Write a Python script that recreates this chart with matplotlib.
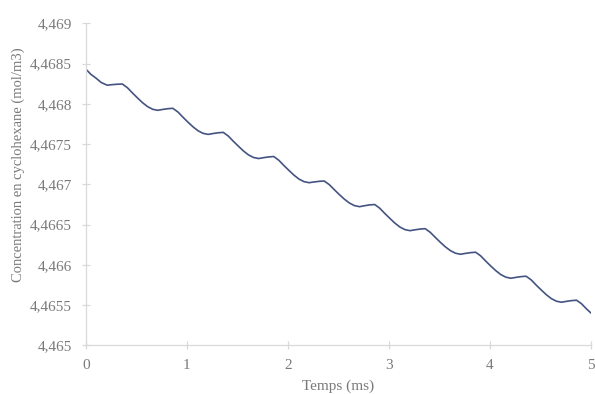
import matplotlib
matplotlib.use("Agg")
import matplotlib.pyplot as plt
from matplotlib.ticker import FuncFormatter, MultipleLocator

# values
temps_ms = [0.00, 0.05, 0.10, 0.15, 0.21, 0.26, 0.31, 0.36,
            0.41, 0.46, 0.51, 0.56, 0.61, 0.66, 0.71, 0.76, 0.81, 0.86,
            0.91, 0.96, 1.01, 1.06, 1.11, 1.16, 1.21, 1.26, 1.31, 1.36,
            1.41, 1.46, 1.51, 1.56, 1.61, 1.66, 1.71, 1.76, 1.81, 1.86,
            1.91, 1.96, 2.01, 2.06, 2.11, 2.16, 2.21, 2.26, 2.31, 2.36,
            2.41, 2.46, 2.51, 2.56, 2.61, 2.66, 2.71, 2.76, 2.81, 2.86,
            2.91, 2.96, 3.01, 3.06, 3.11, 3.16, 3.21, 3.26, 3.31, 3.36,
            3.41, 3.46, 3.51, 3.56, 3.61, 3.66, 3.71, 3.76, 3.81, 3.86,
            3.91, 3.96, 4.01, 4.06, 4.11, 4.16, 4.21, 4.26, 4.31, 4.36,
            4.41, 4.46, 4.51, 4.56, 4.61, 4.66, 4.71, 4.76, 4.81, 4.86,
            4.91, 4.96, 5.00]

concentration = [4.468429, 4.468364, 4.468318, 4.468265, 4.468231, 4.468238, 4.468243, 4.468246,
                 4.468200, 4.468135, 4.468073, 4.468014, 4.467965, 4.467932, 4.467919, 4.467930, 4.467939, 4.467944,
                 4.467899, 4.467834, 4.467772, 4.467714, 4.467665, 4.467633, 4.467620, 4.467631, 4.467640, 4.467645,
                 4.467599, 4.467534, 4.467473, 4.467414, 4.467365, 4.467333, 4.467320, 4.467331, 4.467340, 4.467345,
                 4.467299, 4.467234, 4.467173, 4.467114, 4.467065, 4.467033, 4.467020, 4.467029, 4.467037, 4.467041,
                 4.466996, 4.466933, 4.466872, 4.466815, 4.466767, 4.466735, 4.466722, 4.466734, 4.466744, 4.466749,
                 4.466703, 4.466638, 4.466577, 4.466518, 4.466469, 4.466437, 4.466424, 4.466435, 4.466444, 4.466449,
                 4.466404, 4.466341, 4.466280, 4.466223, 4.466176, 4.466144, 4.466131, 4.466142, 4.466151, 4.466156,
                 4.466111, 4.466046, 4.465985, 4.465927, 4.465878, 4.465846, 4.465833, 4.465844, 4.465853, 4.465858,
                 4.465813, 4.465748, 4.465687, 4.465629, 4.465580, 4.465548, 4.465535, 4.465546, 4.465555, 4.465560,
                 4.465515, 4.465450, 4.465404]

x_label = "Temps (ms)"
y_label = "Concentration en cyclohexane (mol/m3)"

plt.rcParams['font.family'] = ['Liberation Serif', 'DejaVu Serif']

fig = plt.figure(figsize=(5.95, 3.94), dpi=100)
ax = fig.add_axes([86 / 595, 1 - 345.3 / 394, (590.7 - 86) / 595, (345.3 - 23.3) / 394])

ax.plot(temps_ms, concentration, color='#445482', linewidth=1.2)

ax.set_xlim(0, 5)
ax.set_ylim(4.465, 4.469)
ax.xaxis.set_major_locator(MultipleLocator(1))
ax.yaxis.set_major_locator(MultipleLocator(0.0005))
ax.yaxis.set_major_formatter(FuncFormatter(
    lambda v, p: f"{v:.4f}".rstrip('0').rstrip('.').replace('.', ',')))

for side in ['top', 'right']:
    ax.spines[side].set_visible(False)
for side in ['left', 'bottom']:
    ax.spines[side].set_color('#d9d9d9')
    ax.spines[side].set_linewidth(0.9)

ax.tick_params(direction='inout', length=6, width=0.9, color='#d9d9d9',
               labelcolor='#7a7a7a', labelsize=11, pad=7)

fig.text(338 / 595, 1 - 386 / 394, x_label, ha='center', va='center',
         fontsize=11, color='#7a7a7a')
fig.text(18 / 595, 1 - 165 / 394, y_label, ha='center', va='center',
         rotation=90, fontsize=10.5, color='#7a7a7a')

fig.savefig('out.png', dpi=100)
